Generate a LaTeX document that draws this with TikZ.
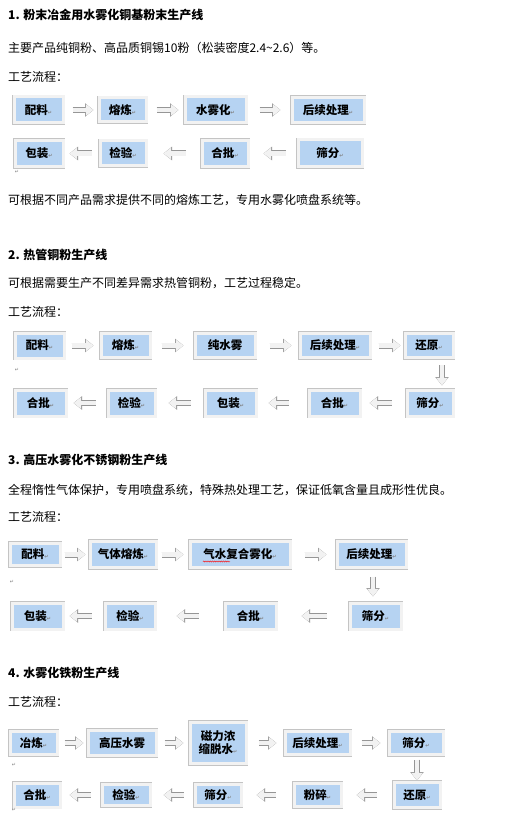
\documentclass[tikz,border=0pt]{standalone}
\usepackage{fontspec}
\setmainfont{Noto Sans CJK SC}
\newfontfamily\symfont{DejaVu Sans}
\usetikzlibrary{arrows.meta,calc,decorations.pathmorphing}

\newlength{\du}
\setlength{\du}{1pt}

\definecolor{boxblue}{RGB}{182,211,242}
\definecolor{framegray}{RGB}{196,196,196}
\definecolor{framefill}{RGB}{242,242,242}
\definecolor{arrowgray}{RGB}{150,150,150}

\newcommand{\pmark}{{\symfont\fontsize{5}{5}\selectfont\color{gray}↵}}

\tikzset{
  stepbox/.style={draw=framefill, line width=3pt, fill=boxblue,
    preaction={draw=framegray, line width=4.6pt},
    inner sep=0pt, font=\bfseries\fontsize{11.5}{13}\selectfont},
  flow/.style={draw=arrowgray, line width=6pt, -{Triangle[length=8.5pt,width=13pt]},
    postaction={draw=framefill, line width=4.6pt, -{Triangle[length=7.6pt,width=11pt]}}},
  textline/.style={anchor=west, inner sep=0pt, font=\fontsize{12}{14}\selectfont},
  headline/.style={textline, font=\bfseries\fontsize{12}{14}\selectfont},
  parmark/.style={inner sep=0pt, font=\symfont\fontsize{5}{5}\selectfont, text=gray},
}

\begin{document}
\begin{tikzpicture}
\pgftransformxscale{1.000000}
\pgftransformyscale{-1.000000}
\fill[white] (0\du,0\du) rectangle (508\du,829\du);
\useasboundingbox (0\du,0\du) rectangle (508\du,829\du);

% section 1
\node[headline] (h1) at (8\du,15\du) {1. 粉末冶金用水雾化铜基粉末生产线};
\node[textline] (t1) at (8\du,48\du) {主要产品纯铜粉、高品质铜锡10粉（松装密度2.4\textasciitilde2.6）等。};
\node[textline] (f1) at (8\du,77\du) {工艺流程：};
\node[stepbox, minimum width=49\du, minimum height=26\du] (s1a) at (38.5\du,110\du) {配料\pmark};
\node[stepbox, minimum width=47\du, minimum height=24\du] (s1b) at (122.5\du,110\du) {熔炼\pmark};
\node[stepbox, minimum width=61\du, minimum height=26\du] (s1c) at (215.5\du,110\du) {水雾化\pmark};
\node[stepbox, minimum width=72\du, minimum height=25\du] (s1d) at (328\du,110\du) {后续处理\pmark};
\node[stepbox, minimum width=64\du, minimum height=27\du] (s1e) at (330\du,153.5\du) {筛分\pmark};
\node[stepbox, minimum width=46\du, minimum height=26\du] (s1f) at (225\du,153.5\du) {合批\pmark};
\node[stepbox, minimum width=46\du, minimum height=25\du] (s1g) at (123\du,153.5\du) {检验\pmark};
\node[stepbox, minimum width=48\du, minimum height=26\du] (s1h) at (39\du,153.5\du) {包装\pmark};
\draw[flow, shorten <=8\du, shorten >=4\du] (s1a.east) -- (s1b.west);
\draw[flow, shorten <=9\du, shorten >=5\du] (s1b.east) -- (s1c.west);
\draw[flow, shorten <=12\du, shorten >=10\du] (s1c.east) -- (s1d.west);
\draw[flow, shorten <=11\du, shorten >=14\du] (s1e.west) -- (s1f.east);
\draw[flow, shorten <=15\du, shorten >=16\du] (s1f.west) -- (s1g.east);
\draw[flow, shorten <=7\du, shorten >=5\du] (s1g.west) -- (s1h.east);
\node[parmark] (pm1) at (17\du,172\du) {↵};
\node[textline] (e1) at (8\du,200\du) {可根据不同产品需求提供不同的熔炼工艺，专用水雾化喷盘系统等。};

% section 2
\node[headline] (h2) at (8\du,255\du) {2. 热管铜粉生产线};
\node[textline] (t2) at (8\du,283\du) {可根据需要生产不同差异需求热管铜粉，工艺过程稳定。};
\node[textline] (f2) at (8\du,312\du) {工艺流程：};
\node[stepbox, minimum width=49\du, minimum height=25\du] (s2a) at (39.5\du,345.5\du) {配料\pmark};
\node[stepbox, minimum width=49\du, minimum height=24\du] (s2b) at (125.5\du,345.5\du) {熔炼\pmark};
\node[stepbox, minimum width=60\du, minimum height=24\du] (s2c) at (225\du,345.5\du) {纯水雾};
\node[stepbox, minimum width=70\du, minimum height=24\du] (s2d) at (335\du,345.5\du) {后续处理\pmark};
\node[stepbox, minimum width=48\du, minimum height=24\du] (s2e) at (429\du,345.5\du) {还原\pmark};
\node[stepbox, minimum width=46\du, minimum height=26\du] (s2f) at (430\du,403\du) {筛分\pmark};
\node[stepbox, minimum width=51\du, minimum height=26\du] (s2g) at (334.5\du,403\du) {合批\pmark};
\node[stepbox, minimum width=51\du, minimum height=26\du] (s2h) at (230.5\du,403\du) {包装\pmark};
\node[stepbox, minimum width=47\du, minimum height=26\du] (s2i) at (131.5\du,403\du) {检验\pmark};
\node[stepbox, minimum width=51\du, minimum height=26\du] (s2j) at (40.5\du,403\du) {合批\pmark};
\draw[flow, shorten <=6\du, shorten >=6\du] (s2a.east) -- (s2b.west);
\draw[flow, shorten <=10\du, shorten >=10\du] (s2b.east) -- (s2c.west);
\draw[flow, shorten <=13\du, shorten >=7\du] (s2c.east) -- (s2d.west);
\draw[flow, shorten <=7\du, shorten >=3\du] (s2d.east) -- (s2e.west);
\draw[flow, shorten <=6\du, shorten >=3\du] ($(s2e.south)+(13\du,0\du)$) -- ($(s2f.north)+(12\du,0\du)$);
\draw[flow, shorten <=14\du, shorten >=8\du] (s2f.west) -- (s2g.east);
\draw[flow, shorten <=19\du, shorten >=11\du] (s2g.west) -- (s2h.east);
\draw[flow, shorten <=13\du, shorten >=12\du] (s2h.west) -- (s2i.east);
\draw[flow, shorten <=11\du, shorten >=6\du] (s2i.west) -- (s2j.east);
\node[parmark] (pm2) at (17\du,370\du) {↵};

% section 3
\node[headline] (h3) at (8\du,460\du) {3. 高压水雾化不锈钢粉生产线};
\node[textline] (t3) at (8\du,490\du) {全程惰性气体保护，专用喷盘系统，特殊热处理工艺，保证低氧含量且成形性优良。};
\node[textline] (f3) at (8\du,517\du) {工艺流程：};
\node[stepbox, minimum width=50\du, minimum height=22\du] (s3a) at (35\du,554.5\du) {配料\pmark};
\node[stepbox, minimum width=66\du, minimum height=26\du] (s3b) at (123\du,554.5\du) {气体熔炼\pmark};
\node[stepbox, minimum width=100\du, minimum height=26\du] (s3c) at (240\du,554.5\du) {气水复合雾化\pmark};
\node[stepbox, minimum width=69\du, minimum height=26\du] (s3d) at (371.5\du,554.5\du) {后续处理\pmark};
\node[stepbox, minimum width=51\du, minimum height=26\du] (s3e) at (375.5\du,616\du) {筛分\pmark};
\node[stepbox, minimum width=51\du, minimum height=26\du] (s3f) at (250.5\du,616\du) {合批\pmark};
\node[stepbox, minimum width=50\du, minimum height=26\du] (s3g) at (130\du,616\du) {检验\pmark};
\node[stepbox, minimum width=51\du, minimum height=26\du] (s3h) at (37.5\du,616\du) {包装\pmark};
\draw[red, line width=0.4pt, decorate, decoration={snake, amplitude=0.6pt, segment length=2.2pt}]
  ($(s3c.center)+(-37\du,7\du)$) -- ($(s3c.center)+(-10\du,7\du)$);
\draw[flow, shorten <=3\du, shorten >=3\du] (s3a.east) -- (s3b.west);
\draw[flow, shorten <=4\du, shorten >=5\du] (s3b.east) -- (s3c.west);
\draw[flow, shorten <=13\du, shorten >=9\du] (s3c.east) -- (s3d.west);
\draw[flow, shorten <=7.5\du, shorten >=5\du] ($(s3d.south)+(1.5\du,0\du)$) -- ($(s3e.north)+(-2.5\du,0\du)$);
\draw[flow, shorten <=22\du, shorten >=24\du] (s3e.west) -- (s3f.east);
\draw[flow, shorten <=25\du, shorten >=20\du] (s3f.west) -- (s3g.east);
\draw[flow, shorten <=12\du, shorten >=5\du] (s3g.west) -- (s3h.east);
\node[parmark] (pm3) at (12\du,582\du) {↵};

% section 4
\node[headline] (h4) at (8\du,673\du) {4. 水雾化铁粉生产线};
\node[textline] (f4) at (8\du,702\du) {工艺流程：};
\node[stepbox, minimum width=47\du, minimum height=23\du] (s4a) at (33.5\du,743\du) {冶炼\pmark};
\node[stepbox, minimum width=68\du, minimum height=25\du] (s4b) at (122\du,743\du) {高压水雾};
\node[stepbox, minimum width=56\du, minimum height=41\du, align=center] (s4c) at (218\du,743\du) {磁力浓\\缩脱水\pmark};
\node[stepbox, minimum width=65\du, minimum height=23\du] (s4d) at (317.5\du,743\du) {后续处理\pmark};
\node[stepbox, minimum width=54\du, minimum height=23\du] (s4e) at (416\du,743\du) {筛分\pmark};
\node[stepbox, minimum width=46\du, minimum height=25\du] (s4f) at (417\du,795\du) {还原\pmark};
\node[stepbox, minimum width=47\du, minimum height=23\du] (s4g) at (317.5\du,795\du) {粉碎\pmark};
\node[stepbox, minimum width=46\du, minimum height=21\du] (s4h) at (218\du,795\du) {筛分\pmark};
\node[stepbox, minimum width=48\du, minimum height=21\du] (s4i) at (126\du,795\du) {检验\pmark};
\node[stepbox, minimum width=46\du, minimum height=24\du] (s4j) at (37\du,795\du) {合批\pmark};
\draw[flow, shorten <=6\du, shorten >=3\du] (s4a.east) -- (s4b.west);
\draw[flow, shorten <=7\du, shorten >=5\du] (s4b.east) -- (s4c.west);
\draw[flow, shorten <=11\du, shorten >=7\du] (s4c.east) -- (s4d.west);
\draw[flow, shorten <=10\du, shorten >=7\du] (s4d.east) -- (s4e.west);
\draw[flow, shorten <=3.5\du, shorten >=0.5\du] ($(s4e.south)+(1\du,0\du)$) -- (s4f.north);
\draw[flow, shorten <=16\du, shorten >=14\du] (s4f.west) -- (s4g.east);
\draw[flow, shorten <=17\du, shorten >=14\du] (s4g.west) -- (s4h.east);
\draw[flow, shorten <=10\du, shorten >=12\du] (s4h.west) -- (s4i.east);
\draw[flow, shorten <=10\du, shorten >=8\du] (s4i.west) -- (s4j.east);
\node[parmark] (pm4) at (14\du,765\du) {↵};
\node[parmark] (pm5) at (14\du,810\du) {↵};
\end{tikzpicture}
\end{document}
